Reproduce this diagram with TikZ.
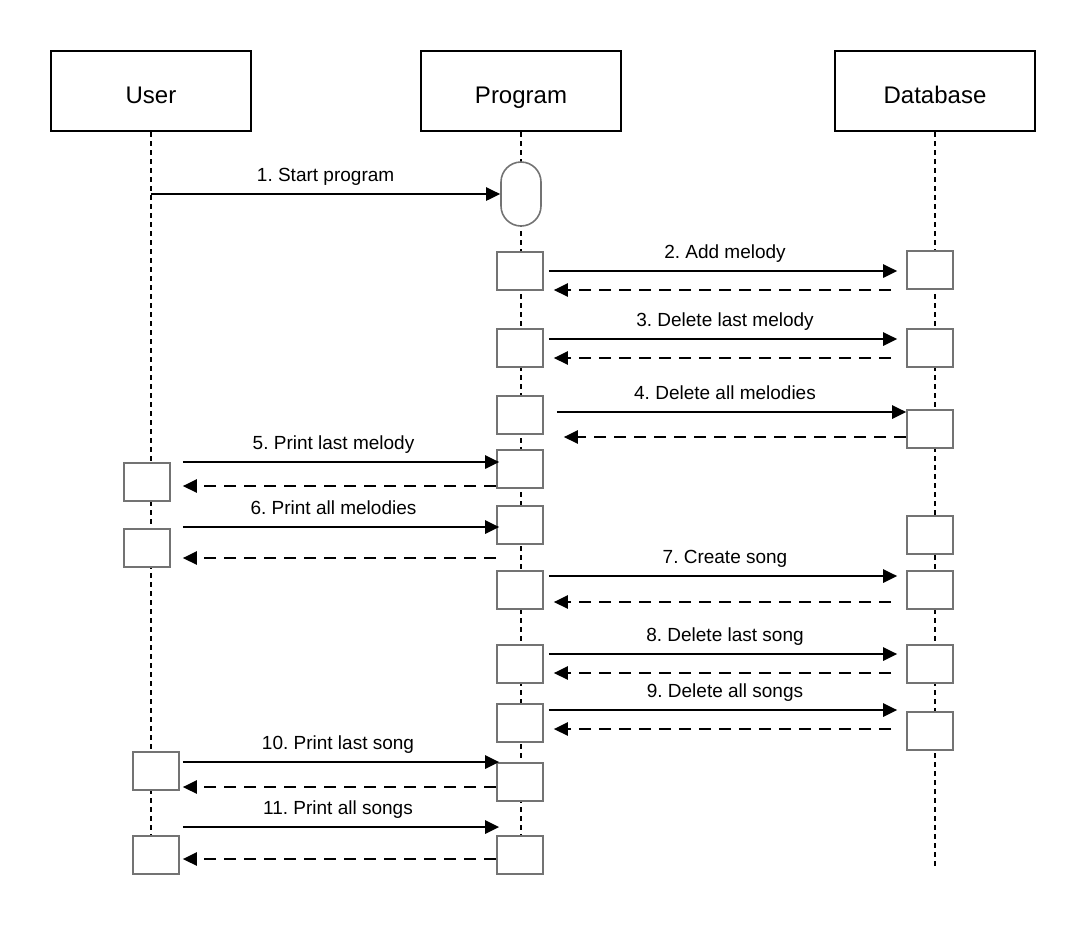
\documentclass[tikz,border=0pt]{standalone}
\usepackage{fontspec}
\setmainfont{Liberation Sans}
\usetikzlibrary{arrows.meta}
\frenchspacing

\begin{document}
\begin{tikzpicture}[x=0.5pt, y=-0.5pt,
  actor/.style={draw, line width=1pt, minimum width=100pt, minimum height=40pt, text height=12.6pt, text depth=0pt, font=\fontsize{12}{14}\selectfont},
  life/.style={line width=0.9pt, dash pattern=on 2.5pt off 2pt},
  act/.style={draw=black!55, fill=white, line width=0.8pt, minimum width=23pt, minimum height=19pt, inner sep=0pt},
  call/.style={-{Triangle[length=7pt,width=6.5pt]}, line width=1.3pt},
  reply/.style={-{Triangle[length=7pt,width=6.5pt]}, line width=1.2pt, dash pattern=on 6pt off 4pt},
  fwd/.style={call, shorten <=2.5pt, shorten >=4.5pt},
  back/.style={reply, shorten <=7.5pt, shorten >=5pt},
  lbl/.style={midway, above=3.5pt, inner sep=0pt, text depth=2pt, font=\fontsize{9.5}{11}\selectfont},
]
\useasboundingbox (0,0) rectangle (1086,928);

% participants and lifelines
\node[actor] (user) at (151,91) {User};
\node[actor] (prog) at (521,91) {Program};
\node[actor] (db) at (935,91) {Database};
\coordinate (userEnd) at (151,877);
\coordinate (progEnd) at (521,877);
\coordinate (dbEnd) at (935,868);
\draw[life] (user) -- (userEnd);
\draw[life] (prog) -- (progEnd);
\draw[life] (db) -- (dbEnd);

% activations
\node[act, minimum width=20pt, minimum height=32pt, rounded corners=10pt] (start) at (521,194) {};
\foreach \n/\y in {2/271, 3/348, 4/415, 5/469, 6/525, 7/590, 8/664, 9/723, 10/782, 11/855}
  \node[act] (p\n) at (520,\y) {};
\foreach \n/\y in {2/270, 3/348, 4/429, 6/535, 7/590, 8/664, 9/731}
  \node[act] (d\n) at (930,\y) {};
\node[act] (u5) at (147,482) {};
\node[act] (u6) at (147,548) {};
\node[act] (u10) at (156,771) {};
\node[act] (u11) at (156,855) {};

% messages
\coordinate (u1) at (151,194);
\draw[call] (u1) -- (start.west) node[lbl] {1. Start program};

\draw[fwd] (p2.east |- 0,271) -- (d2.west |- 0,271) node[lbl] {2. Add melody};
\draw[back] (d2.west |- 0,290) -- (p2.east |- 0,290);
\draw[fwd] (p3.east |- 0,339) -- (d3.west |- 0,339) node[lbl] {3. Delete last melody};
\draw[back] (d3.west |- 0,358) -- (p3.east |- 0,358);
\draw[call, shorten <=6.5pt] (p4.east |- 0,412) -- (d4.west |- 0,412) node[lbl] {4. Delete all melodies};
\draw[reply, shorten >=10pt] (d4.west |- 0,437) -- (p4.east |- 0,437);

\draw[call, shorten <=6pt, shorten >=-1.5pt] (u5.east |- 0,462) -- (p5.west |- 0,462) node[lbl] {5. Print last melody};
\draw[reply, shorten >=6pt] (p5.west |- 0,486) -- (u5.east |- 0,486);
\draw[call, shorten <=6pt, shorten >=-1.5pt] (u6.east |- 0,527) -- (p6.west |- 0,527) node[lbl] {6. Print all melodies};
\draw[reply, shorten >=6pt] (p6.west |- 0,558) -- (u6.east |- 0,558);

\draw[fwd] (p7.east |- 0,576) -- (d7.west |- 0,576) node[lbl] {7. Create song};
\draw[back] (d7.west |- 0,602) -- (p7.east |- 0,602);
\draw[fwd] (p8.east |- 0,654) -- (d8.west |- 0,654) node[lbl] {8. Delete last song};
\draw[back] (d8.west |- 0,673) -- (p8.east |- 0,673);
\draw[fwd] (p9.east |- 0,710) -- (d9.west |- 0,710) node[lbl] {9. Delete all songs};
\draw[back] (d9.west |- 0,729) -- (p9.east |- 0,729);

\draw[call, shorten <=1.5pt, shorten >=-1.5pt] (u10.east |- 0,762) -- (p10.west |- 0,762) node[lbl] {10. Print last song};
\draw[reply, shorten >=1.5pt] (p10.west |- 0,787) -- (u10.east |- 0,787);
\draw[call, shorten <=1.5pt, shorten >=-1.5pt] (u11.east |- 0,827) -- (p11.west |- 0,827) node[lbl] {11. Print all songs};
\draw[reply, shorten >=1.5pt] (p11.west |- 0,859) -- (u11.east |- 0,859);
\end{tikzpicture}
\end{document}
